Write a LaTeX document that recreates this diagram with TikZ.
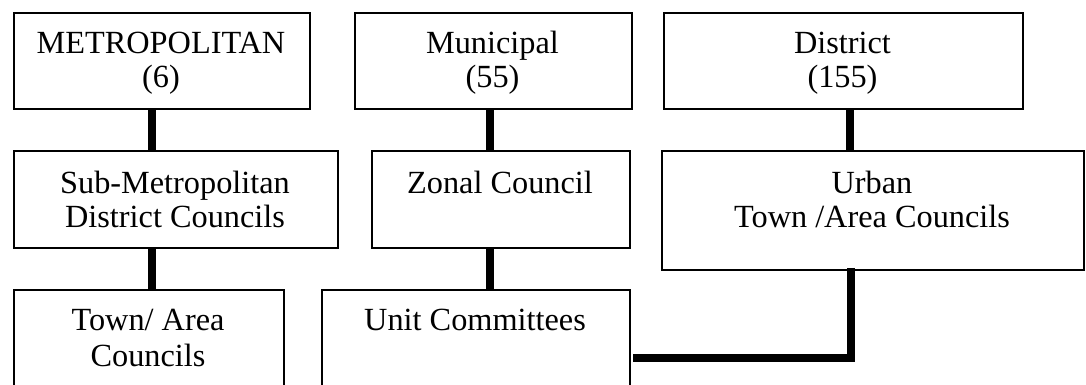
\documentclass[tikz,border=0pt]{standalone}
\usepackage{fontspec}
\setmainfont{Liberation Serif}
\begin{document}
\begin{tikzpicture}[x=1pt,y=-1pt,
  box/.style={draw=black, line width=1.8pt, rectangle, inner sep=0pt, anchor=north west},
  txt/.style={inner sep=0pt, anchor=base, font=\fontsize{32.3}{36}\selectfont},
  conn/.style={line width=7.5pt, line cap=butt, line join=miter}]
\useasboundingbox (0,0) rectangle (1086,384);
\fill[white] (0,0) rectangle (1086,384);
\clip (0,0) rectangle (1086,384);
% boxes
\node[box, minimum width=296pt, minimum height=96pt] (metro) at (13,12) {};
\node[box, minimum width=277pt, minimum height=96pt] (mun) at (354,12) {};
\node[box, minimum width=359pt, minimum height=96pt] (dist) at (663,12) {};
\node[box, minimum width=324pt, minimum height=97pt] (submetro) at (13,150) {};
\node[box, minimum width=258pt, minimum height=97pt] (zonal) at (371,150) {};
\node[box, minimum width=422pt, minimum height=119pt] (urban) at (661,150) {};
\node[box, minimum width=270pt, minimum height=136pt] (town) at (13,289) {};
\node[box, minimum width=308pt, minimum height=136pt] (unit) at (321,289) {};
% texts
\node[txt] (metroA) at (161,53) {METROPOLITAN};
\node[txt] (metroB) at (161,87) {(6)};
\node[txt] (munA) at (492.5,53) {Municipal};
\node[txt] (munB) at (492.5,87) {(55)};
\node[txt] (distA) at (842.5,53) {District};
\node[txt] (distB) at (842.5,87) {(155)};
\node[txt] (submetroA) at (175,193) {Sub-Metropolitan};
\node[txt] (submetroB) at (175,227) {District Councils};
\node[txt] (zonalA) at (500,193) {Zonal Council};
\node[txt] (urbanA) at (872,193) {Urban};
\node[txt] (urbanB) at (872,227) {Town /Area Councils};
\node[txt] (townA) at (148,330) {Town/ Area};
\node[txt] (townB) at (148,366) {Councils};
\node[txt] (unitA) at (475,330) {Unit Committees};
% connectors
\draw[conn] ([xshift=-10pt]metro.south) -- ([xshift=-24pt]submetro.north);
\draw[conn] ([xshift=-24pt]submetro.south) -- ([xshift=3pt]town.north);
\draw[conn] ([xshift=-3.5pt]mun.south) -- ([xshift=-11pt]zonal.north);
\draw[conn] ([xshift=-11pt]zonal.south) -- ([xshift=14pt]unit.north);
\draw[conn] ([xshift=6.5pt]dist.south) -- ([xshift=-23pt]urban.north);
\draw[conn] ([xshift=-22pt,yshift=3pt]urban.south) |- ([xshift=2pt]unit.east);
\end{tikzpicture}
\end{document}
